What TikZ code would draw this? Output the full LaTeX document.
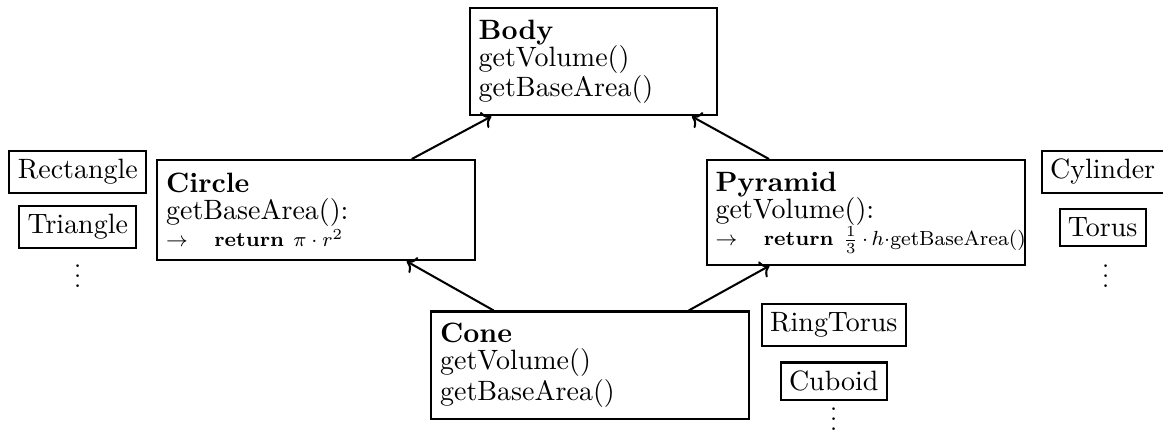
\documentclass[tikz,border=0pt]{standalone}
\usepackage{amsmath,amssymb}
\usepackage{tikz}
\usetikzlibrary{arrows.meta,positioning}

\newcommand{\bigfont}{\fontsize{10.95}{10.6}\selectfont}

\begin{document}
\begin{tikzpicture}[
    node distance=0.17cm,
    cls/.style={rectangle, draw, thick, align=left, text width=4.13cm,
                inner xsep=3.5pt, inner ysep=4.5pt, font=\bigfont},
    sub/.style={rectangle, draw, thick, inner sep=3.3pt, font=\bigfont},
    arrow/.style={->, thick}
]
\useasboundingbox (0,0) rectangle (16,6.012);

% main classes
\node[cls, text width=3.15cm] (body) at (8.16,5.16)
    {\textbf{Body}\\getVolume()\\getBaseArea()};
\node[cls, minimum height=1.38cm] (circle) at (4.35,3.12)
    {\textbf{Circle}\\getBaseArea():\\
     {\footnotesize$\rightarrow$\hspace{1.3em}\textbf{return} $\pi\cdot r^2$}};
\node[cls, minimum height=1.44cm] (pyramid) at (11.91,3.09)
    {\textbf{Pyramid}\\getVolume():\\
     {\footnotesize\mbox{$\rightarrow$\hspace{1.3em}\textbf{return} $\frac{1}{3}\,{\cdot}\,h{\cdot}$getBaseArea()}}};
\node[cls] (cone) at (8.12,0.99)
    {\textbf{Cone}\\getVolume()\\getBaseArea()};

% other classes
\node[sub] (rect) at (1.07,3.65) {Rectangle};
\node[sub, below=0.15cm of rect] (tri) {Triangle};
\node (dotsl) at (1.07,2.32) {$\vdots$};
\node[sub] (cyl) at (15.17,3.65) {Cylinder};
\node[sub, below=0.2cm of cyl] (torus) {Torus};
\node (dotsr) at (15.21,2.32) {$\vdots$};
\node[sub] (ring) at (11.47,1.54) {RingTorus};
\node[sub, below=0.2cm of ring] (cuboid) {Cuboid};
\node (dotsb) at (11.47,0.35) {$\vdots$};

\draw[arrow] (circle) -- (body);
\draw[arrow] (pyramid) -- (body);
\draw[arrow] (cone) -- (circle);
\draw[arrow] (cone) -- (pyramid);
\end{tikzpicture}
\end{document}
